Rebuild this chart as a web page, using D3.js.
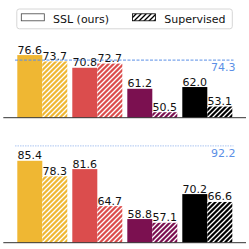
<!DOCTYPE html>
<html><head><meta charset="utf-8">
<script src="https://cdn.jsdelivr.net/npm/d3@7"></script>
<style>html,body{margin:0;padding:0;background:#fff;}svg{display:block;}</style>
</head><body>
<script>
const categories = ["A","B","C","D"];
const colors = ["#efb733","#db4d4d","#7b1050","#000000"];
const topSSL = [76.6, 70.8, 61.2, 62.0];
const topSup = [73.7, 72.7, 50.5, 53.1];
const topRef = 74.3;
const botSSL = [85.4, 81.6, 58.8, 70.2];
const botSup = [78.3, 64.7, 57.1, 66.6];
const botRef = 92.2;
const legendLabels = ["SSL (ours)", "Supervised"];

const W = 249, H = 249;
const svg = d3.select("body").append("svg").attr("width", W).attr("height", H);
const defs = svg.append("defs");
function hatch(id, fill, line){
  const p = defs.append("pattern").attr("id", id).attr("patternUnits","userSpaceOnUse")
    .attr("width",5).attr("height",5);
  p.append("rect").attr("width",5).attr("height",5).attr("fill",fill);
  p.append("path").attr("d","M0,5 L5,0 M-1.25,1.25 L1.25,-1.25 M3.75,6.25 L6.25,3.75")
    .attr("stroke",line).attr("stroke-width",1.3).attr("shape-rendering","auto");
}
colors.forEach((c,i)=>hatch("h"+i, c, "#fff"));
hatch("hleg", "#fff", "#000");

const x = d3.scaleBand().domain(categories).range([17.3, 232.3]).paddingInner(5/55).paddingOuter(0);
const bw = x.bandwidth()/2;
const font = "DejaVu Sans, sans-serif";

function panel(baseline, ssl, sup, ref, dashStyle){
  const y = d3.scaleLinear().domain([48, 100]).range([baseline, baseline - 52*2.19]);
  const g = svg.append("g");
  categories.forEach((c,i)=>{
    const x0 = x(c);
    g.append("rect").attr("x", x0).attr("y", y(ssl[i])).attr("width", bw)
      .attr("height", y(48)-y(ssl[i])).attr("fill", colors[i]);
    g.append("rect").attr("x", x0+bw).attr("y", y(sup[i])).attr("width", bw)
      .attr("height", y(48)-y(sup[i])).attr("fill", "url(#h"+i+")");
    g.append("text").attr("x", x0+bw/2).attr("y", y(ssl[i])-1.5).attr("text-anchor","middle")
      .attr("font-family",font).attr("font-size",11).attr("fill","#111").text(ssl[i].toFixed(1));
    g.append("text").attr("x", x0+bw*1.5).attr("y", y(sup[i])-1.5).attr("text-anchor","middle")
      .attr("font-family",font).attr("font-size",11).attr("fill","#111").text(sup[i].toFixed(1));
  });
  g.append("line").attr("x1",15).attr("x2",233.5).attr("y1",y(ref)).attr("y2",y(ref))
    .attr("stroke","#5b8fe6").attr("stroke-width",1)
    .attr("stroke-dasharray",dashStyle.dash).attr("opacity",dashStyle.op);
  g.append("text").attr("x",235.5).attr("y",y(ref)+11).attr("text-anchor","end")
    .attr("font-family",font).attr("font-size",11).attr("fill","#5b8fe6").text(ref.toFixed(1));
  g.append("line").attr("x1",3.3).attr("x2",246).attr("y1",baseline).attr("y2",baseline)
    .attr("stroke","#333").attr("stroke-width",1);
}
panel(117.7, topSSL, topSup, topRef, {dash:"3,1.5", op:1});
panel(242.7, botSSL, botSup, botRef, {dash:"1.5,1", op:0.5});

// legend
const lg = svg.append("g");
lg.append("rect").attr("x",16.8).attr("y",9).attr("width",215.5).attr("height",19.8)
  .attr("rx",2.5).attr("fill","#fff").attr("stroke","#d6d6d6").attr("stroke-width",1);
lg.append("rect").attr("x",21.3).attr("y",13.8).attr("width",23).attr("height",7)
  .attr("fill","#fff").attr("stroke","#444").attr("stroke-width",0.8);
lg.append("text").attr("x",53).attr("y",22.5).attr("font-family",font).attr("font-size",11)
  .attr("fill","#111").text(legendLabels[0]);
lg.append("rect").attr("x",132.5).attr("y",13.8).attr("width",23).attr("height",7)
  .attr("fill","url(#hleg)").attr("stroke","#000").attr("stroke-width",0.8);
lg.append("text").attr("x",164.3).attr("y",22.5).attr("font-family",font).attr("font-size",11)
  .attr("fill","#111").text(legendLabels[1]);
</script>
</body></html>
